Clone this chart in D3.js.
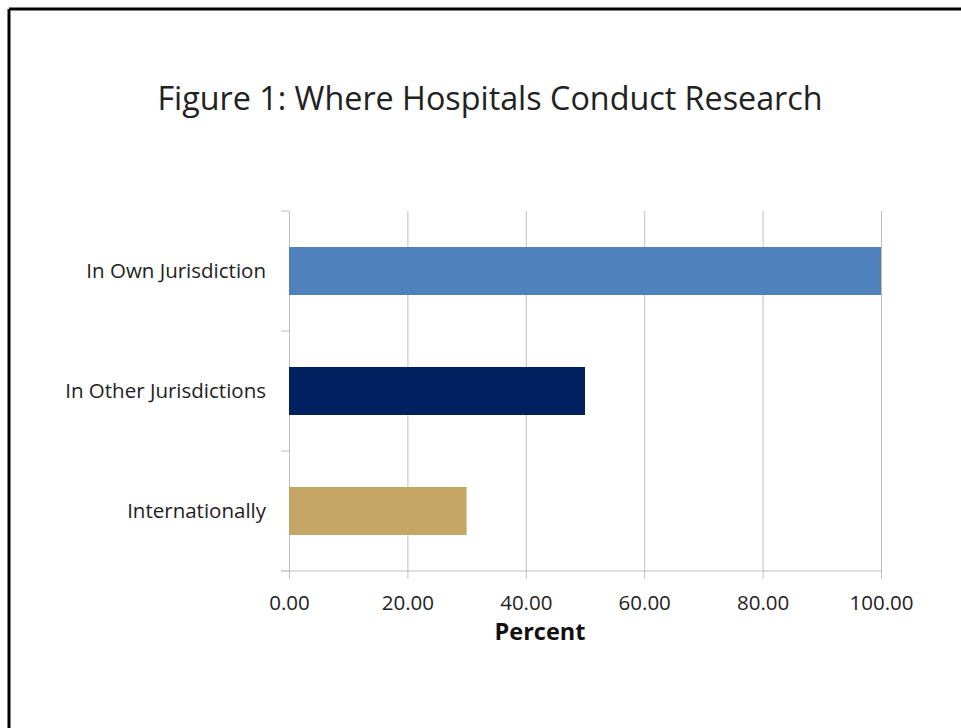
<!DOCTYPE html>
<html>
<head>
<meta charset="utf-8">
<script src="https://cdn.jsdelivr.net/npm/d3@7"></script>
<style>
  html, body { margin: 0; padding: 0; background: #fff; }
  svg { display: block; }
  text { font-family: "Open Sans", Lato, sans-serif; }
</style>
</head>
<body>
<svg id="chart" width="961" height="728"></svg>
<script>
// Share of hospitals conducting research in each location
const categories = ["In Own Jurisdiction", "In Other Jurisdictions", "Internationally"];
const values = [100, 50, 30];
const barColors = ["#4f81bd", "#002060", "#c4a665"];
const tickValues = [0, 20, 40, 60, 80, 100];

const svg = d3.select("#chart");

// Frame around the figure (open on the right and bottom)
svg.append("line").attr("x1", 9).attr("x2", 961).attr("y1", 9).attr("y2", 9)
  .attr("stroke", "#000").attr("stroke-width", 3);
svg.append("line").attr("x1", 9).attr("x2", 9).attr("y1", 9).attr("y2", 728)
  .attr("stroke", "#000").attr("stroke-width", 3);

// Title
svg.append("text")
  .attr("x", 490).attr("y", 110)
  .attr("text-anchor", "middle")
  .attr("font-size", 32.3)
  .attr("fill", "#222")
  .text("Figure 1: Where Hospitals Conduct Research");

const plot = { left: 289, right: 881, top: 211, bottom: 571 };

const x = d3.scaleLinear().domain([0, 100]).range([plot.left, plot.right]);
const y = d3.scaleBand().domain(categories).range([plot.top, plot.bottom]).paddingInner(0.6).paddingOuter(0.3);

// Vertical gridlines with ticks below the axis
const gx = svg.append("g").attr("transform", `translate(0,${plot.bottom})`)
  .call(d3.axisBottom(x).tickValues(tickValues).tickFormat(d3.format(".2f"))
    .tickSize(8).tickPadding(0));
gx.select(".domain").remove();
gx.selectAll(".tick line").attr("stroke", "#bfbfbf").attr("y1", -(plot.bottom - plot.top));
gx.selectAll(".tick text")
  .attr("y", 39).attr("dy", null)
  .attr("font-size", 20.5).attr("fill", "#222");

// Horizontal axis baseline
svg.append("line")
  .attr("x1", plot.left - 8).attr("x2", plot.right)
  .attr("y1", plot.bottom).attr("y2", plot.bottom)
  .attr("stroke", "#bfbfbf");

// Vertical category axis with boundary ticks
const yBounds = d3.range(categories.length + 1).map(i => plot.top + i * (plot.bottom - plot.top) / categories.length);
svg.append("g").selectAll("line").data(yBounds).join("line")
  .attr("x1", plot.left - 8).attr("x2", plot.left)
  .attr("y1", d => d).attr("y2", d => d)
  .attr("stroke", "#bfbfbf");

// Bars
svg.append("g").selectAll("rect").data(categories).join("rect")
  .attr("x", x(0))
  .attr("y", d => y(d))
  .attr("width", (d, i) => x(values[i]) - x(0))
  .attr("height", y.bandwidth())
  .attr("fill", (d, i) => barColors[i]);

// Category labels
svg.append("g").selectAll("text").data(categories).join("text")
  .attr("x", plot.left - 23)
  .attr("y", d => y(d) + y.bandwidth() / 2 + 7)
  .attr("text-anchor", "end")
  .attr("font-size", 20.5)
  .attr("fill", "#222")
  .text(d => d);

// Axis title
svg.append("text")
  .attr("x", 540).attr("y", 640)
  .attr("text-anchor", "middle")
  .attr("font-size", 23.5)
  .attr("font-weight", "bold")
  .attr("fill", "#111")
  .text("Percent");
</script>
</body>
</html>
